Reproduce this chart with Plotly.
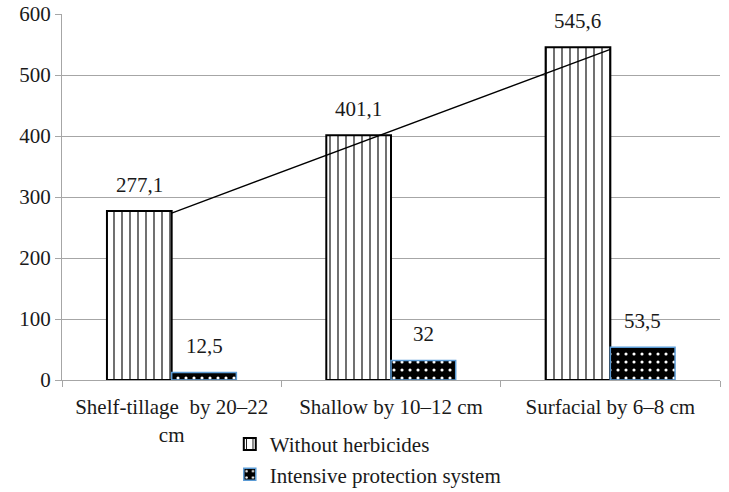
import numpy as np
import plotly.graph_objects as go

categories = ["Shelf-tillage  by 20–22<br>cm", "Shallow by 10–12 cm", "Surfacial by 6–8 cm"]
without_herbicides = [277.1, 401.1, 545.6]
intensive_protection = [12.5, 32, 53.5]
y_ticks = [0, 100, 200, 300, 400, 500, 600]

FONT = "'Times New Roman', 'Liberation Serif', serif"
FS = 21
TXT = "#1a1a1a"

W, H = 729, 492
M = dict(l=62, r=9, t=14, b=112, autoexpand=False)
BARGAP = 0.41


def fmt(v):
    return f"{v:g}".replace(".", ",")


# linear trend through the "without herbicides" series
xi = np.arange(1, len(without_herbicides) + 1)
slope, intercept = np.polyfit(xi, without_herbicides, 1)
trend = slope * xi + intercept

fig = go.Figure()
fig.add_trace(go.Bar(
    name="Without herbicides",
    x=categories, y=without_herbicides,
    marker=dict(
        color="white",
        line=dict(color="black", width=2),
        pattern=dict(shape="|", fgcolor="black", bgcolor="white",
                     size=8, solidity=0.14, fillmode="replace"),
    ),
))
fig.add_trace(go.Bar(
    name="Intensive protection system",
    x=categories, y=intensive_protection,
    marker=dict(
        color="black",
        line=dict(color="#5B9BD5", width=1.5),
        pattern=dict(shape=".", fgcolor="white", bgcolor="black",
                     size=8, solidity=0.12, fillmode="replace"),
    ),
))
fig.add_trace(go.Scatter(
    x=categories, y=trend, mode="lines",
    line=dict(color="black", width=1.3),
    showlegend=False, hoverinfo="skip",
))

# value labels above each bar, shifted to the bar's slot within its group
plot_w = W - M["l"] - M["r"]
bar_px = plot_w / len(categories) * (1 - BARGAP) / 2
for series, sign in ((without_herbicides, -1), (intensive_protection, 1)):
    for cat, v in zip(categories, series):
        fig.add_annotation(
            x=cat, y=v, xref="x", yref="y",
            text=fmt(v), showarrow=False,
            xshift=sign * bar_px / 2, yshift=12,
            yanchor="bottom", xanchor="center",
            font=dict(family=FONT, size=FS, color=TXT),
        )

fig.update_layout(
    width=W, height=H,
    margin=M,
    paper_bgcolor="white", plot_bgcolor="white",
    barmode="group", bargap=BARGAP, bargroupgap=0,
    font=dict(family=FONT, size=FS, color=TXT),
    showlegend=True,
    legend=dict(
        orientation="v",
        x=0.255, xanchor="left",
        y=-0.12, yanchor="top",
        font=dict(family=FONT, size=FS, color=TXT),
        tracegroupgap=0,
        bgcolor="rgba(0,0,0,0)",
    ),
    xaxis=dict(
        automargin=False, tickangle=0,
        showline=True, linecolor="#A6A6A6", linewidth=1,
        ticks="outside", tickson="boundaries", ticklen=6, tickcolor="#A6A6A6",
        ticklabelstandoff=8,
        tickfont=dict(family=FONT, size=FS, color=TXT),
        showgrid=False,
    ),
    yaxis=dict(
        automargin=False,
        range=[0, 600], tickvals=y_ticks,
        showline=True, linecolor="#A6A6A6", linewidth=1,
        ticks="outside", ticklen=6, tickcolor="#A6A6A6",
        showgrid=True, gridcolor="#A6A6A6", gridwidth=1,
        zeroline=False,
        tickfont=dict(family=FONT, size=FS, color=TXT),
    ),
)

fig.write_html("out.html")
